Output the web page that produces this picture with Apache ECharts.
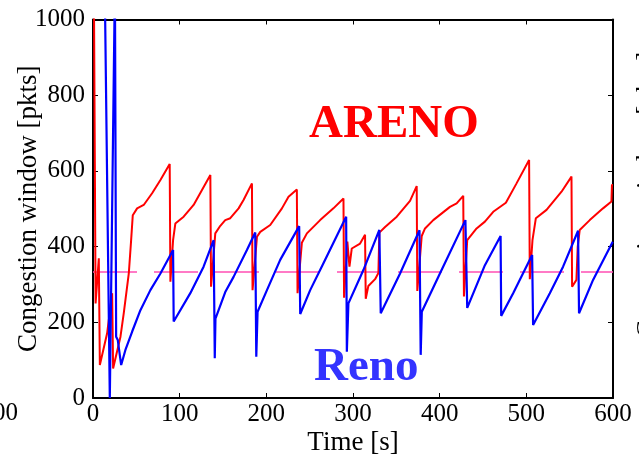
<!DOCTYPE html>
<html>
<head>
<meta charset="utf-8">
<script src="https://cdn.jsdelivr.net/npm/echarts@6/dist/echarts.min.js"></script>
<style>
html,body{margin:0;padding:0;background:#fff;}
#c{width:639px;height:454px;}
</style>
</head>
<body>
<div id="c"></div>
<script>
// ---- data (time [s], congestion window [pkts]) ----
var arenoT = [1,3,6.7,7.9,16.3,22.1,23.2,31.7,35.5,41.3,44,45.9,50.9,58.5,68.2,77.8,88.5,89.3,92.4,95,104.6,116.1,135.4,136.2,141.1,146.9,152.6,158.4,168,173.7,183.4,184.1,189.2,193,204.5,218,225.6,235.2,236,241,246.8,262.1,277.4,289,289.7,293.5,295.9,298.6,308.2,313.9,314.7,317.7,325.5,329.3,330.4,337,350.5,365.8,373.5,374.2,379.3,383.1,392.6,411.9,419.6,427.2,428,431.8,442.6,452.2,461.8,476.4,488.7,503.2,504,507.1,511,523.3,540.6,552.1,552.8,557.8,559.3,561.6,573.2,588.5,598.2,598.8,600];
var arenoW = [1100,250,369,87,171,277,78,162,224,329,417,483,501,510,541,576,618,307,417,461,479,510,589,294,435,455,470,475,501,523,567,285,426,439,457,501,532,551,277,410,435,470,501,527,265,413,347,395,408,431,262,296,314,330,437,452,479,521,560,283,428,448,470,505,514,534,268,417,448,466,492,516,567,629,314,417,475,497,545,585,294,312,400,444,470,501,519,563,563];

var renoT = [13.5,19.4,25.3,26.2,26.7,28.6,30.9,32.5,37.4,45.1,54.7,66.2,77.8,92.4,93.1,112.3,127.6,139.2,140.5,141.3,152.6,162.2,177.6,187.2,188.4,189.9,200.7,216,237.9,239.1,250.6,265.9,292.1,292.9,294.7,312,330.4,332,354.3,376.7,378.1,379.4,400.3,429.7,431.8,452.2,470.3,471,484.8,506.7,507.8,527.1,542.4,559.7,560.8,577,599.7];
var renoW = [1100,0,1100,1100,162,153,158,87,127,175,232,285,329,391,202,277,347,417,105,210,280,320,391,437,109,228,285,365,454,222,285,356,479,122,250,338,444,224,329,443,114,228,329,470,238,351,428,217,277,378,193,277,347,442,224,312,413];

var refT = [0,600];
var refW = [333,333];

var xTicks = [0,100,200,300,400,500,600];
var yTicks = [0,200,400,600,800,1000];

function pairs(t,w){var o=[];for(var i=0;i<t.length;i++)o.push([t[i],w[i]]);return o;}

var FONT = 'Liberation Serif';
var chart = echarts.init(document.getElementById('c'), null, {renderer:'canvas'});

var axisLine = {show:true, onZero:false, lineStyle:{color:'#000', width:2}};
var tick = {show:true, inside:true, length:5, lineStyle:{color:'#000', width:1}};
var plain = function(v){return String(v);};

chart.setOption({
  animation:false,
  backgroundColor:'#fff',
  grid:{left:93, right:26, top:19.5, bottom:56, containLabel:false, outerBoundsMode:'none'},
  xAxis:[{
    type:'value', min:xTicks[0], max:xTicks[xTicks.length-1], interval:100,
    axisLine:axisLine, axisTick:tick, splitLine:{show:false},
    axisLabel:{color:'#000', fontFamily:FONT, fontSize:25, margin:4, formatter:plain},
    name:'Time [s]', nameLocation:'middle', nameGap:31, nameMoveOverlap:false,
    nameTextStyle:{color:'#000', fontFamily:FONT, fontSize:27}
  },{
    type:'value', position:'top', min:0, max:600, interval:100,
    axisLine:axisLine, axisTick:tick, axisLabel:{show:false}, splitLine:{show:false}
  }],
  yAxis:[{
    type:'value', min:yTicks[0], max:yTicks[yTicks.length-1], interval:200,
    axisLine:axisLine, axisTick:tick, splitLine:{show:false},
    axisLabel:{color:'#000', fontFamily:FONT, fontSize:25, margin:8, formatter:plain},
    name:'Congestion window [pkts]', nameLocation:'middle', nameGap:51, nameMoveOverlap:false,
    nameTextStyle:{color:'#000', fontFamily:FONT, fontSize:27}
  },{
    type:'value', position:'right', min:0, max:1000, interval:200,
    axisLine:axisLine, axisTick:tick, axisLabel:{show:false}, splitLine:{show:false}
  }],
  series:[
    {type:'line', name:'ref', data:pairs(refT,refW), symbol:'none', clip:true, z:1,
     lineStyle:{color:'#ff4fb4', width:1.5, type:[44,17]}},
    {type:'line', name:'ARENO', data:pairs(arenoT,arenoW), symbol:'none', clip:true, z:3,
     lineStyle:{color:'#ff0000', width:2}},
    {type:'line', name:'Reno', data:pairs(renoT,renoW), symbol:'none', clip:true, z:4,
     lineStyle:{color:'#0000ff', width:2.2}}
  ],
  graphic:[
    {type:'text', left:309, top:101, style:{text:'ARENO', fill:'#ff0000', font:'bold 47px "Liberation Serif"'}},
    {type:'text', left:314, top:344, style:{text:'Reno', fill:'#3333ff', font:'bold 47px "Liberation Serif"'}},
    {type:'text', x:18, y:413, style:{text:'600', fill:'#000', font:'25px "Liberation Serif"', align:'right', verticalAlign:'middle'}},
    {type:'text', x:634, y:195, rotation:Math.PI/2, style:{text:'Congestion window [pkts]', fill:'#000', font:'27px "Liberation Serif"', align:'center', verticalAlign:'top'}}
  ]
});
</script>
</body>
</html>
